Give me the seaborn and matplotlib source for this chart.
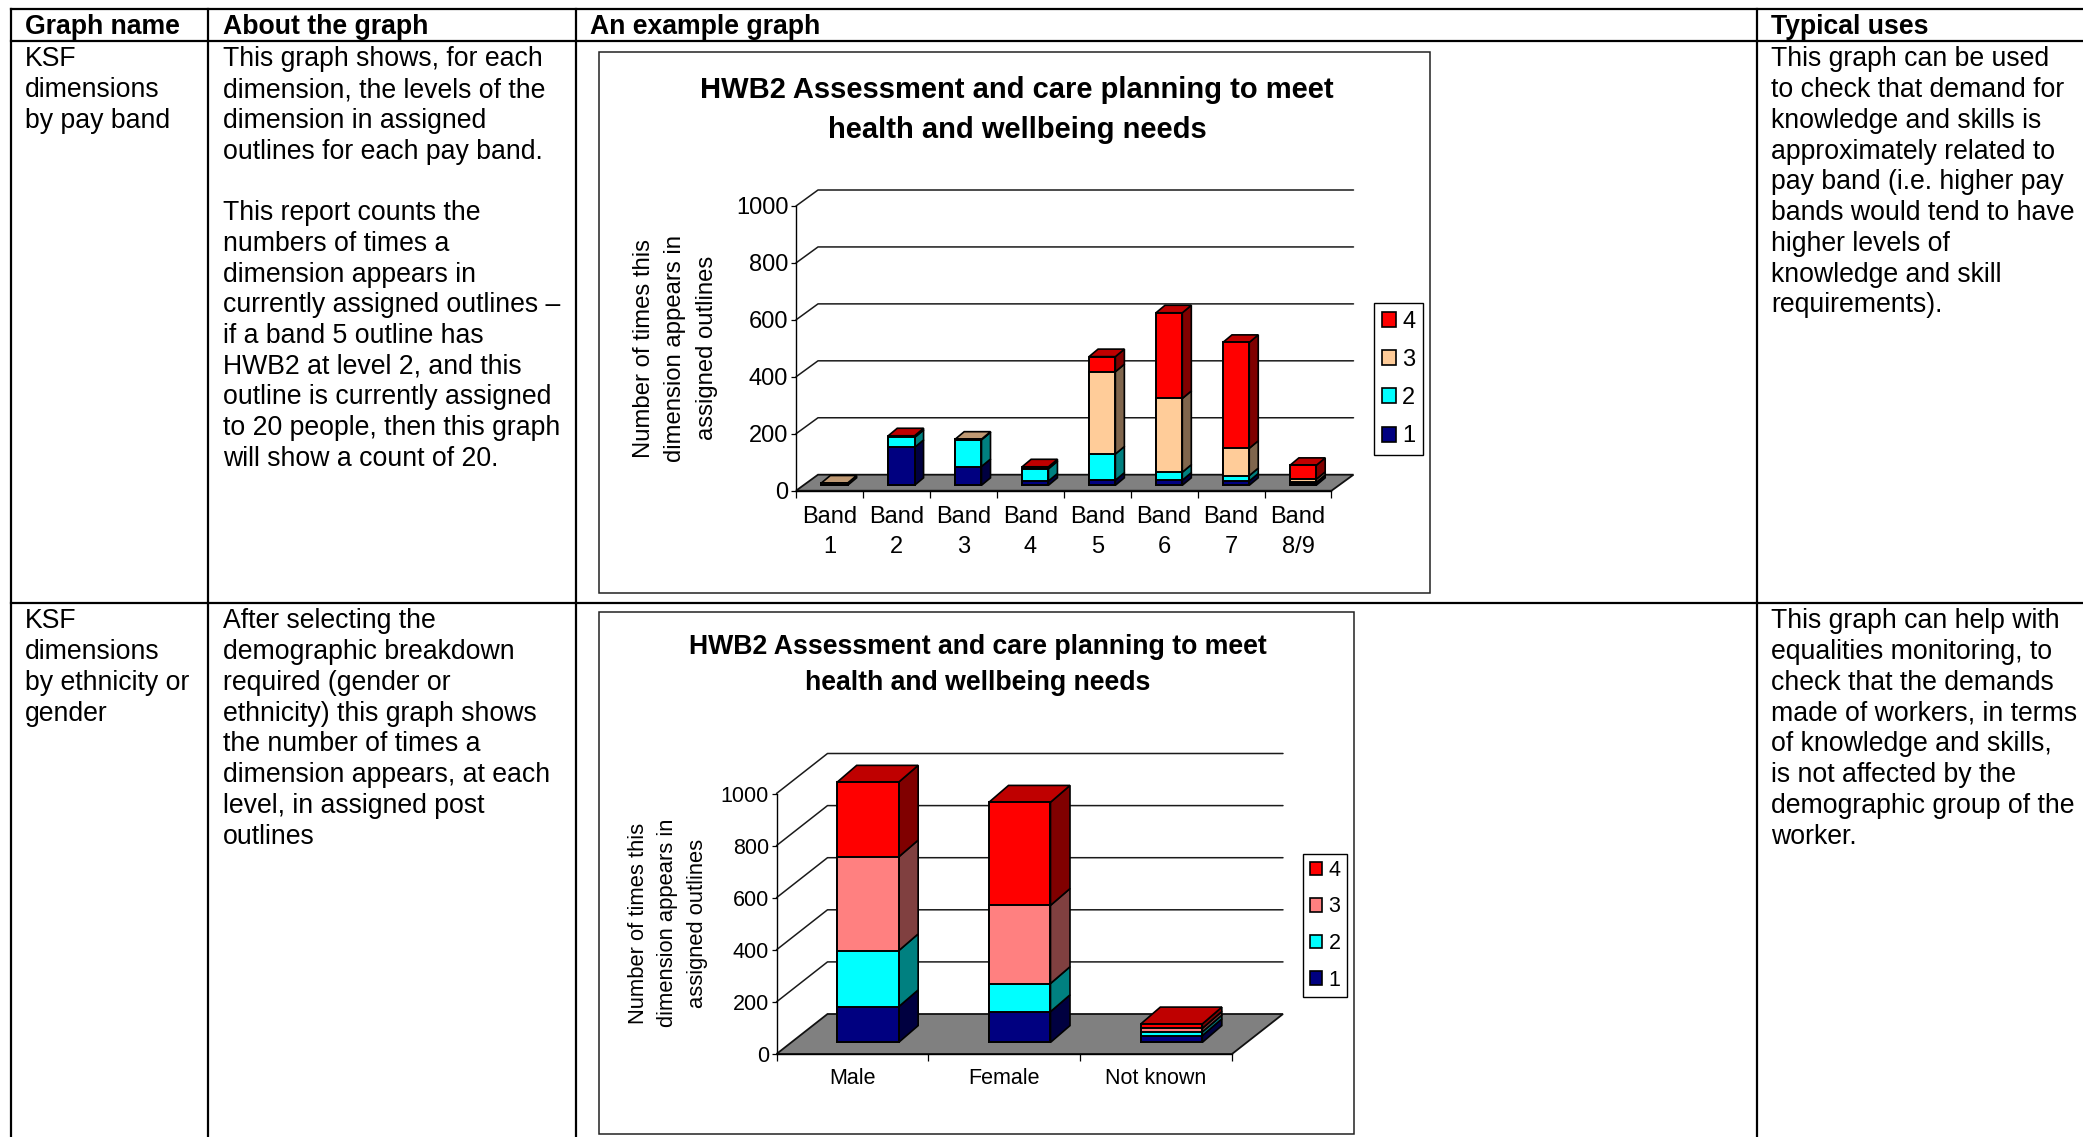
import matplotlib
matplotlib.use("Agg")
import matplotlib.pyplot as plt
from matplotlib.lines import Line2D
from matplotlib.patches import Patch, Polygon, Rectangle
from matplotlib.transforms import IdentityTransform
import seaborn as sns

sns.set_theme(style="white")
plt.rcParams["font.family"] = ["Liberation Sans", "DejaVu Sans"]
plt.rcParams["text.color"] = "black"

W, H = 2083, 1137

# ---- chart data -------------------------------------------------------------
LEVELS = ["1", "2", "3", "4"]

BAND_CATEGORIES = ["Band\n1", "Band\n2", "Band\n3", "Band\n4",
                   "Band\n5", "Band\n6", "Band\n7", "Band\n8/9"]
BAND_LEVEL_1 = [0, 133, 66, 15, 18, 18, 15, 9]
BAND_LEVEL_2 = [0, 35, 94, 43, 92, 28, 19, 1]
BAND_LEVEL_3 = [8, 0, 2, 0, 289, 259, 96, 11]
BAND_LEVEL_4 = [0, 6, 0, 7, 53, 301, 372, 49]

GROUP_CATEGORIES = ["Male", "Female", "Not known"]
GROUP_LEVEL_1 = [137, 118, 26]
GROUP_LEVEL_2 = [215, 108, 14]
GROUP_LEVEL_3 = [360, 300, 14]
GROUP_LEVEL_4 = [287, 396, 17]

CHART_TITLE = "HWB2 Assessment and care planning to meet\nhealth and wellbeing needs"
Y_LABEL = ["Number of times this", "dimension appears in", "assigned outlines"]

# ---- table text -------------------------------------------------------------
HEADERS = ["Graph name", "About the graph", "An example graph", "Typical uses"]
ROW1_NAME = ["KSF", "dimensions", "by pay band"]
ROW1_ABOUT = ["This graph shows, for each", "dimension, the levels of the",
              "dimension in assigned", "outlines for each pay band.", "",
              "This report counts the", "numbers of times a",
              "dimension appears in", "currently assigned outlines \u2013",
              "if a band 5 outline has", "HWB2 at level 2, and this",
              "outline is currently assigned", "to 20 people, then this graph",
              "will show a count of 20."]
ROW1_USES = ["This graph can be used", "to check that demand for",
             "knowledge and skills is", "approximately related to",
             "pay band (i.e. higher pay", "bands would tend to have",
             "higher levels of", "knowledge and skill", "requirements)."]
ROW2_NAME = ["KSF", "dimensions", "by ethnicity or", "gender"]
ROW2_ABOUT = ["After selecting the", "demographic breakdown",
              "required (gender or", "ethnicity) this graph shows",
              "the number of times a", "dimension appears, at each",
              "level, in assigned post", "outlines"]
ROW2_USES = ["This graph can help with", "equalities monitoring, to",
             "check that the demands", "made of workers, in terms",
             "of knowledge and skills,", "is not affected by the",
             "demographic group of the", "worker."]

NAVY, CYAN, RED = "#000080", "#00FFFF", "#FF0000"
TAN, PINK = "#FFCC99", "#FF8080"
SHADE = {NAVY: "#000040", CYAN: "#008080", RED: "#800000",
         TAN: "#80664D", PINK: "#804040"}
CAP = {NAVY: "#000060", CYAN: "#00BFBF", RED: "#BF0000",
       TAN: "#BF9973", PINK: "#BF6060"}

fig = plt.figure(figsize=(W / 100, H / 100), dpi=100, facecolor="white")

# Full-page axes in pixel units for the table rules, cell text and chart frames
page = fig.add_axes([0, 0, 1, 1], zorder=0)
page.set_xlim(0, W)
page.set_ylim(H, 0)
page.axis("off")


def rule(x0, y0, x1, y1, lw=1.6):
    page.add_line(Line2D([x0, x1], [y0, y1], color="black", lw=lw,
                         solid_capstyle="projecting"))


COLS = [11, 208, 576, 1757]
for x in COLS:
    rule(x, 9, x, H + 5)
rule(11, 9, W, 9)
rule(11, 41, W, 41)
rule(11, 602.5, W, 602.5)

BODY = 19.2
TEXT_X = [25, 223, 590, 1771]
for x, head in zip(TEXT_X, HEADERS):
    page.text(x, 27, head, fontsize=BODY, fontweight="bold", va="center")


def cell(x, y, lines):
    for i, line in enumerate(lines):
        page.text(x, y + i * 30.72, line, fontsize=BODY, va="center")


cell(TEXT_X[0], 59.5, ROW1_NAME)
cell(TEXT_X[1], 59.5, ROW1_ABOUT)
cell(TEXT_X[3], 59.5, ROW1_USES)
cell(TEXT_X[0], 621.5, ROW2_NAME)
cell(TEXT_X[1], 621.5, ROW2_ABOUT)
cell(TEXT_X[3], 621.5, ROW2_USES)


def chart(frame, plot, depth, bar_depth, bar_shift, bar_width, cats, levels, colors,
          font, title_xy, title_size, title_gap, ylabel_size, ylabel_x, ylabel_y,
          legend_box, legend_space, tick_pad):
    """Draw one pseudo-3D stacked column chart; geometry arguments are in pixels."""
    fx0, fy0, fx1, fy1 = frame
    page.add_patch(Rectangle((fx0, fy0), fx1 - fx0, fy1 - fy0, fill=False,
                             ec="#222222", lw=1.1))
    title_lines = CHART_TITLE.split("\n")
    for i, line in enumerate(title_lines):
        page.text(title_xy[0], title_xy[1] + i * title_gap, line, fontsize=title_size,
                  fontweight="bold", ha="center", va="center")
    for x, line in zip(ylabel_x, Y_LABEL):
        page.text(x, ylabel_y, line, fontsize=ylabel_size, rotation=90,
                  ha="center", va="center")

    px0, py0, px1, py1 = plot  # left, y of value 1000, right, y of value 0
    ax = fig.add_axes([px0 / W, 1 - py1 / H, (px1 - px0) / W, (py1 - py0) / H], zorder=2)
    ax.patch.set_alpha(0)
    n = len(cats)
    ux = (px1 - px0) / n        # pixels per category
    uy = (py1 - py0) / 1000     # pixels per value unit
    ddx, ddy = depth[0] / ux, depth[1] / uy
    bdx, bdy = bar_depth[0] / ux, bar_depth[1] / uy
    sx, sy = bar_shift[0] / ux, bar_shift[1] / uy
    left_edge, right_edge = -0.5, n - 0.5

    # Floor, back-wall rules and the diagonals running back from the value axis
    ax.add_patch(Polygon([(left_edge, 0), (left_edge + ddx, ddy), (right_edge + ddx, ddy),
                          (right_edge, 0)], closed=True, fc="#808080", ec="#111111",
                         lw=1.3, clip_on=False, zorder=1))
    for v in range(200, 1001, 200):
        ax.plot([left_edge, left_edge + ddx, right_edge + ddx], [v, v + ddy, v + ddy],
                color="#1a1a1a", lw=1.1, clip_on=False, zorder=1)

    # Stacks are built from cumulative heights, tallest first, so each level overlays the last
    tops = []
    running = [0] * n
    for series in levels:
        running = [a + b for a, b in zip(running, series)]
        tops.append(running)
    for color, top in zip(colors[::-1], tops[::-1]):
        first = len(ax.patches)
        sns.barplot(x=cats, y=top, order=cats, color=color, saturation=1, width=bar_width,
                    edgecolor="black", linewidth=1.4, ax=ax, zorder=4)
        for bar in ax.patches[first:]:
            bar.set_x(bar.get_x() + sx)
            bar.set_y(bar.get_y() + sy)
            bar.set_clip_on(False)

    # Side and top faces of each column
    for i in range(n):
        xr = i + sx + bar_width / 2
        xl = xr - bar_width
        base = sy
        cap_color = None
        for color, series in zip(colors, levels):
            v = series[i]
            if v <= 0:
                continue
            ax.add_patch(Polygon([(xr, base), (xr + bdx, base + bdy),
                                  (xr + bdx, base + v + bdy), (xr, base + v)], closed=True,
                                 fc=SHADE[color], ec="black", lw=1.2, clip_on=False, zorder=3))
            base += v
            cap_color = color
        ax.add_patch(Polygon([(xl, base), (xl + bdx, base + bdy), (xr + bdx, base + bdy),
                              (xr, base)], closed=True, fc=CAP[cap_color], ec="black",
                             lw=1.2, clip_on=False, zorder=3))

    ax.set_xlim(left_edge, right_edge)
    ax.set_ylim(0, 1000)
    ax.set_xlabel("")
    ax.set_ylabel("")
    ax.set_yticks(range(0, 1001, 200))
    ax.tick_params(axis="y", left=True, length=3.5, width=0.9, color="black", pad=2,
                   labelsize=font, labelcolor="black")
    ax.set_xticks([left_edge + k for k in range(n + 1)], [""] * (n + 1))
    ax.set_xticks(range(n), cats, minor=True)
    ax.tick_params(axis="x", which="major", bottom=True, length=5, width=0.9, color="black")
    ax.tick_params(axis="x", which="minor", bottom=False, length=0, pad=tick_pad,
                   labelsize=font, labelcolor="black")
    for label in ax.get_xticklabels(minor=True):
        label.set_linespacing(1.5)
    for side in ("top", "right"):
        ax.spines[side].set_visible(False)
    for side in ("left", "bottom"):
        ax.spines[side].set_visible(True)
        ax.spines[side].set_color("black")
        ax.spines[side].set_linewidth(1.0)
    ax.grid(False)

    lx0, ly0, lx1, ly1 = legend_box
    handles = [Patch(fc=c, ec="black", lw=1.2) for c in colors[::-1]]
    leg = ax.legend(handles, LEVELS[::-1], loc="center",
                    bbox_to_anchor=((lx0 + lx1) / 2, H - (ly0 + ly1) / 2),
                    bbox_transform=IdentityTransform(),
                    frameon=True, fancybox=False, edgecolor="black", framealpha=1,
                    fontsize=font, handlelength=0.6, handleheight=0.6, handletextpad=0.28,
                    labelspacing=legend_space, borderpad=0.3, borderaxespad=0, labelcolor="black")
    leg.get_frame().set_linewidth(1.0)
    return ax


chart(frame=(599, 52, 1430, 593), plot=(796, 206, 1331.5, 490.7), depth=(22, 16),
      bar_depth=(9, 7.5), bar_shift=(5, 5.4), bar_width=0.393, cats=BAND_CATEGORIES,
      levels=[BAND_LEVEL_1, BAND_LEVEL_2, BAND_LEVEL_3, BAND_LEVEL_4],
      colors=[NAVY, CYAN, TAN, RED], font=17, title_xy=(1017, 90), title_size=21,
      title_gap=39.5, ylabel_size=17.2, ylabel_x=(644, 675, 707), ylabel_y=348,
      legend_box=(1374, 302, 1423, 456), legend_space=0.69, tick_pad=11)

chart(frame=(598.5, 612, 1354, 1133.6), plot=(776.5, 793.5, 1232, 1054), depth=(51, 40),
      bar_depth=(19.5, 16.8), bar_shift=(15.5, 11.6), bar_width=0.405, cats=GROUP_CATEGORIES,
      levels=[GROUP_LEVEL_1, GROUP_LEVEL_2, GROUP_LEVEL_3, GROUP_LEVEL_4],
      colors=[NAVY, CYAN, PINK, RED], font=15.5, title_xy=(978, 647.5), title_size=19.15,
      title_gap=36, ylabel_size=15.8, ylabel_x=(639, 668, 697), ylabel_y=923,
      legend_box=(1303, 855.5, 1347, 995), legend_space=0.72, tick_pad=10)

fig.savefig("out.png", dpi=100)
